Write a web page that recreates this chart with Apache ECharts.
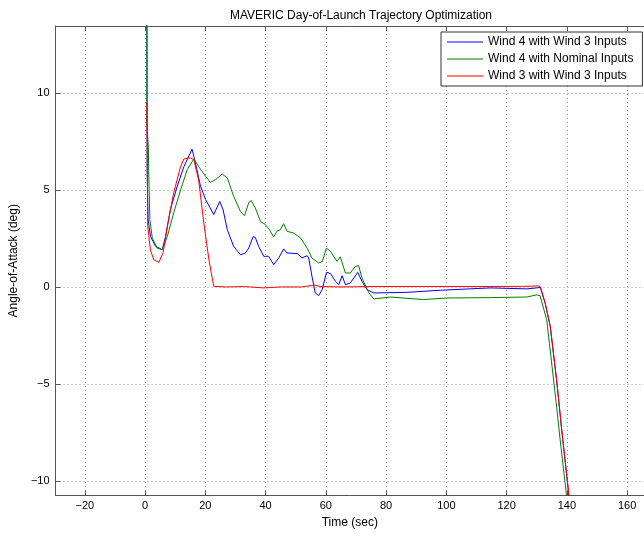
<!DOCTYPE html>
<html>
<head>
<meta charset="utf-8">
<script src="https://cdn.jsdelivr.net/npm/echarts@6/dist/echarts.min.js"></script>
<style>
html,body{margin:0;padding:0;background:#fff}
#chart{width:644px;height:536px}
</style>
</head>
<body>
<div id="chart"></div>
<script>
// values: time (sec) and angle of attack (deg)
var seriesNames = ['Wind 4 with Wind 3 Inputs', 'Wind 4 with Nominal Inputs', 'Wind 3 with Wind 3 Inputs'];

var blueTime = [0.4, 0.7, 1.0, 1.8, 3.5, 5.7, 6.8, 8.4, 10.7, 12.9, 15.6, 16.7, 18.4, 20.1, 22.8, 24.8, 25.9, 27.3, 29.4, 31.7,
    33.3, 34.4, 35.9, 36.6, 37.7, 39.4, 41.0, 42.7, 44.4, 46.0, 47.1, 50.5, 52.1, 53.8, 54.3, 55.4, 56.5, 57.6, 58.8, 60.2,
    61.5, 63.2, 64.3, 65.4, 66.5, 68.1, 70.6, 72.0, 73.7, 75.9, 86.9, 98.0, 114.6, 126.7, 130.0, 131.2, 132.8, 134.5, 136.7, 138.3,
    140.0, 142.0];
var blueAoa = [40, 6, 3.5, 2.6, 2.1, 1.92, 2.6, 3.98, 5.2, 6.2, 7.1, 6.4, 5.2, 4.5, 3.73, 4.41, 3.98, 2.95, 2.09, 1.66,
    1.75, 2.0, 2.6, 2.55, 2.09, 1.58, 1.58, 1.15, 1.5, 1.96, 1.75, 1.72, 1.5, 1.61, 1.5, 0.55, -0.31, -0.45, -0.14, 0.75,
    0.7, 0.29, 0.12, 0.58, 0.12, 0.2, 0.75, 0.29, -0.14, -0.31, -0.28, -0.17, -0.05, -0.1, -0.05, -0.02, -0.85, -2.05, -4.95, -7.4,
    -9.8, -12.6];

var greenTime = [0.4, 0.6, 1.1, 1.2, 1.6, 2.4, 4.0, 5.7, 7.4, 9.5, 11.8, 14.0, 16.2, 17.8, 20.1, 21.7, 23.4, 25.6, 27.3, 29.4,
    31.7, 33.0, 34.4, 35.2, 36.6, 38.3, 40.0, 41.6, 42.7, 43.8, 44.9, 46.0, 47.1, 49.3, 51.6, 53.8, 55.4, 57.6, 58.8, 60.2,
    61.5, 63.7, 64.8, 66.5, 68.1, 69.8, 70.9, 72.0, 74.2, 75.9, 81.4, 92.4, 100.2, 114.6, 126.7, 130.0, 131.1, 133.3, 134.2, 136.4,
    138.0, 139.7, 141.5];
var greenAoa = [40, 8.5, 7.2, 6.0, 3.47, 2.53, 2.0, 1.92, 2.6, 3.81, 5.0, 6.05, 6.6, 6.2, 5.7, 5.39, 5.53, 5.82, 5.62, 4.67,
    3.88, 3.67, 4.33, 4.46, 4.07, 3.38, 3.21, 2.87, 2.58, 2.87, 2.95, 3.26, 2.87, 2.78, 2.53, 2.0, 1.49, 1.24, 1.3, 2.0,
    1.84, 1.32, 1.55, 0.72, 0.72, 1.06, 1.1, 0.46, -0.28, -0.62, -0.52, -0.65, -0.57, -0.55, -0.52, -0.41, -0.45, -1.69, -2.9, -5.9,
    -8.2, -10.5, -13];

var redTime = [0.6, 0.9, 1.8, 2.9, 4.6, 6.0, 7.4, 9.5, 11.8, 12.9, 15.1, 16.2, 17.8, 19.5, 21.2, 22.8, 27, 33, 39.4, 45,
    52, 56.5, 58, 65, 75, 90, 110, 125, 130.5, 131.2, 132.8, 134.5, 136.7, 138.3, 140.0, 142.0];
var redAoa = [9.5, 3.1, 1.9, 1.4, 1.27, 1.77, 3.1, 4.85, 6.2, 6.6, 6.65, 6.56, 5.5, 3.3, 1.4, 0.03, 0.0, 0.02, -0.05, 0.0,
    0.0, 0.1, 0.02, 0.0, 0.02, 0.02, 0.02, 0.03, 0.05, 0.0, -0.82, -2.03, -4.95, -7.36, -9.76, -12.6];

function zip(xs, ys) {
    return xs.map(function (x, i) { return [x, ys[i]]; });
}
function minus(v) {
    return String(v).replace('-', '\u2212');
}

var chart = echarts.init(document.getElementById('chart'));
var font = "'Liberation Sans', Arial, Helvetica, sans-serif";
var axisColor = '#555';
var gridLine = { show: true, lineStyle: { color: '#999', type: [1, 3], width: 1 } };
var tick = { show: true, inside: true, length: 5, lineStyle: { color: axisColor } };
var axisLine = { show: true, onZero: false, lineStyle: { color: axisColor, width: 1 } };

function lineSeries(name, color, data) {
    return {
        name: name,
        type: 'line',
        symbol: 'none',
        color: color,
        lineStyle: { width: 1, color: color },
        data: data
    };
}

var option = {
    animation: false,
    backgroundColor: '#fff',
    textStyle: { fontFamily: font },
    title: {
        text: 'MAVERIC Day-of-Launch Trajectory Optimization',
        left: 356,
        top: 5,
        textAlign: 'center',
        textStyle: { fontSize: 12, fontWeight: 'normal', color: '#000', fontFamily: font }
    },
    legend: {
        orient: 'vertical',
        left: 441,
        top: 32,
        padding: [3, 9, 3, 6],
        icon: 'rect',
        itemWidth: 36,
        itemHeight: 1,
        itemGap: 3,
        backgroundColor: '#fff',
        borderColor: '#333',
        borderWidth: 1,
        borderRadius: 0,
        textStyle: { fontSize: 12, lineHeight: 14, color: '#000', fontFamily: font },
        data: seriesNames
    },
    grid: { left: 55, top: 26, right: 0, height: 469.5 },
    xAxis: [{
        type: 'value',
        min: -29.7,
        max: 165.6,
        splitNumber: 10,
        position: 'bottom',
        name: 'Time (sec)',
        nameLocation: 'middle',
        nameGap: 21,
        nameTextStyle: { fontSize: 12, color: '#000' },
        axisLine: axisLine,
        axisTick: tick,
        axisLabel: { showMinLabel: false, showMaxLabel: false, fontSize: 11, color: '#000', margin: 5, formatter: minus },
        splitLine: gridLine
    }, {
        type: 'value',
        min: -29.7,
        max: 165.6,
        splitNumber: 10,
        position: 'top',
        axisLine: axisLine,
        axisTick: tick,
        axisLabel: { show: false },
        splitLine: { show: false }
    }],
    yAxis: {
        type: 'value',
        min: -10.75,
        max: 13.45,
        splitNumber: 5,
        name: 'Angle-of-Attack (deg)',
        nameLocation: 'middle',
        nameGap: 28,
        nameTextStyle: { fontSize: 12, color: '#000' },
        axisLine: axisLine,
        axisTick: tick,
        axisLabel: { showMinLabel: false, showMaxLabel: false, fontSize: 11, color: '#000', margin: 6, formatter: minus },
        splitLine: gridLine
    },
    series: [
        lineSeries(seriesNames[0], '#0000ff', zip(blueTime, blueAoa)),
        lineSeries(seriesNames[1], '#008000', zip(greenTime, greenAoa)),
        lineSeries(seriesNames[2], '#ff0000', zip(redTime, redAoa))
    ]
};

chart.setOption(option);
window.addEventListener('resize', function () { chart.resize(); });
</script>
</body>
</html>
